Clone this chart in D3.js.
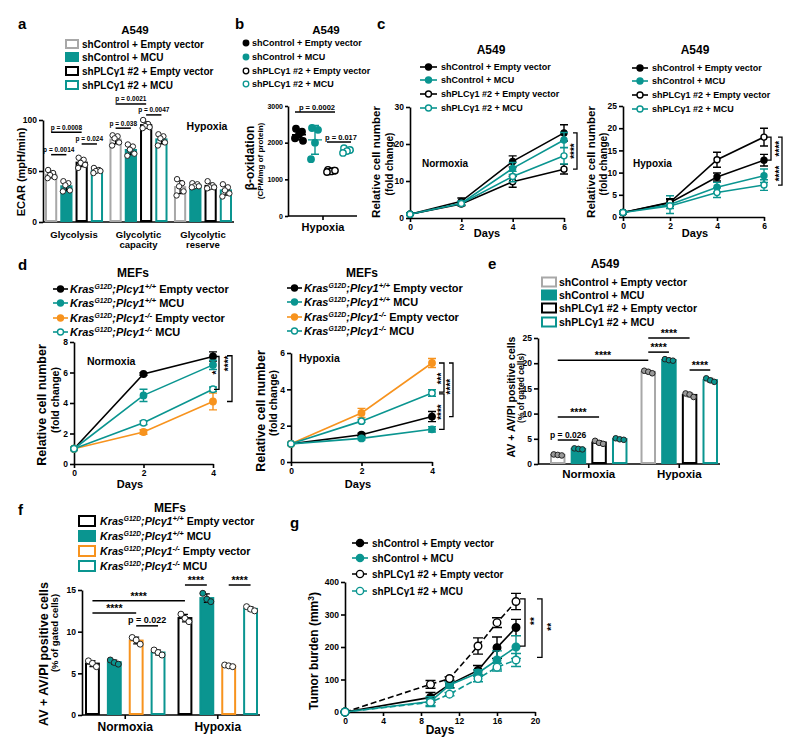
<!DOCTYPE html>
<html><head><meta charset="utf-8">
<script src="https://d3js.org/d3.v7.min.js"></script>
<style>
body{margin:0;background:#fff;}
svg text{font-family:"Liberation Sans",Arial,Helvetica,sans-serif;font-weight:bold;fill:#000;}
</style></head><body>
<script>
// ================= DATA =================
const a549Series = ["shControl + Empty vector","shControl + MCU","shPLCγ1 #2 + Empty vector","shPLCγ1 #2 + MCU"];
const a549SeriesE = ["shControl + Empty vector","shControl  + MCU","shPLCγ1 #2 + Empty vector","shPLCγ1 #2 + MCU"];
const mefGenotype = ["+/+","+/+","-/-","-/-"];
const mefVector = ["Empty vector","MCU","Empty vector","MCU"];

// panel a : ECAR (mpH/min), individual replicates per group / series
const aGroups = ["Glycolysis","Glycolytic\ncapacity","Glycolytic\nreserve"];
const aGlycolysis = [[51,48,46,44,43],[40,38,36,31,30],[63,61,58,56,53],[53,51,50,50,48]];
const aCapacity   = [[85,84,82,78,75],[76,74,71,67,65],[100,96,94,93,92],[86,84,82,78,75]];
const aReserve    = [[42,38,35,30,26],[38,37,35,35,34],[40,36,34,34,33],[37,34,31,28,25]];
const aYTicks = [0,50,100];
const aSig = [[0,0,0,1,66,"p = 0.0014"],[0,0,0,2,88,"p = 0.0008"],[0,2,0,3,76.5,"p = 0.024"],
              [1,0,1,1,92,"p = 0.038"],[1,0,1,2,115.7,"p = 0.0021"],[1,2,1,3,105,"p = 0.0047"]];

// panel b : beta-oxidation (CPM/mg of protein), hypoxia
const bValues = [[2380,2300,2220,2120,2050],[2400,2350,2000,1550],[1260,1235,1215,1200,1240],[1850,1800,1770,1720]];
const bYTicks = [0,1000,2000,3000];
const bSig = [[0,2,2836,"p = 0.0002"],[2,3,2018,"p = 0.017"]];

// panel c : relative cell number (fold change), A549
const cDays = [0,2,4,6];
const cNormMean = [[1,4.5,15.3,23],[1,4.0,13.4,21.1],[1,3.8,9.8,13.2],[1,3.9,11.2,16.8]];
const cNormErr  = [[0.2,0.9,1.5,2.2],[0.2,0.6,1.6,2.0],[0.2,0.5,1.5,1.3],[0.2,0.5,1.4,2.2]];
const cHypMean  = [[1,3.2,9.0,12.8],[1,2.8,6.7,9.3],[1,3.3,12.9,18.0],[1,2.5,5.5,7.2]];
const cHypErr   = [[0.2,0.7,0.9,1.3],[0.2,2.0,1.1,1.5],[0.2,0.8,1.7,2.0],[0.2,0.6,1.1,1.2]];
const cNormYTicks = [0,10,20,30];
const cHypYTicks = [0,5,10,15,20,25];

// panel d : relative cell number (fold change), MEFs
const dDays = [0,2,4];
const dNormMean = [[1,5.9,7.05],[1,4.5,6.5],[1,2.1,4.1],[1,2.7,4.9]];
const dNormErr  = [[0.05,0.08,0.3],[0.05,0.4,0.3],[0.05,0.15,0.55],[0.05,0.12,0.15]];
const dHypMean  = [[1,1.5,2.5],[1,1.3,1.8],[1,2.7,5.45],[1,2.25,3.8]];
const dHypErr   = [[0.05,0.08,0.28],[0.05,0.08,0.15],[0.05,0.25,0.25],[0.05,0.07,0.18]];
const dNormYTicks = [0,2,4,6,8];
const dHypYTicks = [0,2,4,6];

// panel e : AV + AV/PI positive cells (% of gated cells), A549
const eGroups = ["Normoxia","Hypoxia"];
const eNormoxia = [[1.9,1.8,1.7],[3.1,3.0,2.9],[4.6,4.2,4.0],[5.1,4.9,4.8]];
const eHypoxia  = [[18.5,18.3,18.0],[20.8,20.6,20.5],[14.0,13.8,13.3],[17.0,16.6,16.3]];
const eYTicks = [0,5,10,15,20,25];
const eSig = [[0,0,0,1,4.76,"p = 0.026"],[0,0,0,2,9.33,"****"],[0,0,1,0,20.6,"****"],
              [1,0,1,2,25,"****"],[1,0,1,1,22.2,"****"],[1,2,1,3,18.65,"****"]];

// panel f : AV + AV/PI positive cells (% of gated cells), MEFs
const fGroups = ["Normoxia","Hypoxia"];
const fNormoxia = [[6.5,6.2,5.8],[6.6,6.3,6.1],[9.3,9.0,8.5],[7.8,7.5,7.2]];
const fHypoxia  = [[12.1,11.6,11.2],[14.6,13.9,13.6],[6.0,5.9,5.8],[13.0,12.7,12.5]];
const fYTicks = [0,5,10,15];
const fSig = [[0,0,1,0,13.7,"****"],[0,0,0,2,12.25,"****"],[0,2,0,3,10.7,"p = 0.022"],
              [1,0,1,1,15.6,"****"],[1,2,1,3,15.6,"****"]];

// panel g : tumor burden (mm3)
const gDays = [0,9,11,14,16,18];
const gMean = [[0,45,85,128,198,260],[0,32,83,120,160,200],[0,85,103,203,275,340],[0,30,55,103,138,160]];
const gErr  = [[0,15,10,15,33,25],[0,15,10,10,28,35],[0,12,5,25,15,25],[0,10,5,10,12,20]];
const gYTicks = [0,100,200,300,400];
const gXTicks = [0,4,8,12,16,20];

// ================= DRAWING =================
const TEAL="#0a9590", ORANGE="#f7931e", LGRAY="#a8a8a8";
const svg=d3.select("body").append("svg").attr("width",800).attr("height",754);
const fmt=d3.format("d");

function text(x,y,s,size,anchor){return svg.append("text").attr("x",x).attr("y",y).attr("font-size",size).attr("text-anchor",anchor||"start").text(s);}
function vtext(x,y,s,size){return svg.append("text").attr("transform",`translate(${x},${y}) rotate(-90)`).attr("text-anchor","middle").attr("font-size",size).text(s);}
function stars(cx,cy,s,fs,vertical){
  if(vertical) return svg.append("text").attr("transform",`translate(${cx+fs*0.57},${cy}) rotate(-90)`).attr("text-anchor","middle").attr("font-size",fs).text(s);
  return text(cx,cy,s,fs,"middle");
}
function styleAxis(g,fs){g.attr("font-size",fs||8.5);g.selectAll(".domain,line").attr("stroke","#000").attr("stroke-width",1.6);}
function yAxis(y,x,ticks,fs,ts){const g=svg.append("g").attr("transform",`translate(${x},0)`).call(d3.axisLeft(y).tickValues(ticks).tickFormat(fmt).tickSize(ts||4).tickSizeOuter(0).tickPadding(2));styleAxis(g,fs);return g;}
function xAxis(x,y0,ticks){const g=svg.append("g").attr("transform",`translate(0,${y0})`).call(d3.axisBottom(x).tickValues(ticks).tickFormat(fmt).tickSize(4).tickSizeOuter(0).tickPadding(2));styleAxis(g);return g;}

function mefLabel(t,geno,vec){
  t.append("tspan").attr("font-style","italic").text("Kras");
  t.append("tspan").attr("font-style","italic").attr("font-size","0.62em").attr("dy",-4).text("G12D");
  t.append("tspan").attr("font-style","italic").attr("dy",4).text(";Plcγ1");
  t.append("tspan").attr("font-style","italic").attr("font-size","0.72em").attr("dy",-4).text(geno);
  t.append("tspan").attr("dy",4).text(" "+vec);
}
function writeLabel(t,lab){ if(typeof lab==="string") t.text(lab); else mefLabel(t,lab.geno,lab.vec); }

function lineLegend(x1,x2,tx,ys,labels,styles,fs){
  labels.forEach((lab,i)=>{const st=styles[i],yy=ys[i];
    svg.append("line").attr("x1",x1).attr("x2",x2).attr("y1",yy).attr("y2",yy).attr("stroke",st.color).attr("stroke-width",1.6).attr("stroke-dasharray",st.dash||null);
    svg.append("circle").attr("cx",(x1+x2)/2).attr("cy",yy).attr("r",st.r||3).attr("fill",st.open?"#fff":st.color).attr("stroke",st.color).attr("stroke-width",1.4);
    writeLabel(text(tx,yy+fs*0.36,"",fs),lab);
  });
}
function boxLegend(bx,bw,bh,tx,ys,labels,styles,fs){
  labels.forEach((lab,i)=>{const st=styles[i],yy=ys[i];
    svg.append("rect").attr("x",bx).attr("y",yy-bh/2).attr("width",bw).attr("height",bh).attr("fill",st.fill).attr("stroke",st.stroke).attr("stroke-width",2);
    writeLabel(text(tx,yy+fs*0.36,"",fs),lab);
  });
}
function bracket(x,y1,y2,tick){svg.append("path").attr("d",`M${x-tick},${y1}H${x}V${y2}H${x-tick}`).attr("fill","none").attr("stroke","#000").attr("stroke-width",1.3);}

function linePanel(o){
  const x=d3.scaleLinear().domain(o.xd).range(o.xr), y=d3.scaleLinear().domain(o.yd).range(o.yr);
  yAxis(y,o.xr[0],o.yticks); xAxis(x,o.yr[0],o.xticks);
  o.means.forEach((vals,i)=>{const st=o.styles[i], errs=o.errs[i], g=svg.append("g");
    g.append("path").datum(vals).attr("fill","none").attr("stroke",st.color).attr("stroke-width",1.6).attr("stroke-dasharray",st.dash||null)
      .attr("d",d3.line().x((d,j)=>x(o.days[j])).y(d=>y(d)));
    vals.forEach((v,j)=>{const e=errs[j]; if(e>0){const cx=x(o.days[j]),cw=o.cap||4;
      g.append("path").attr("d",`M${cx},${y(v-e)}V${y(v+e)}M${cx-cw},${y(v+e)}H${cx+cw}M${cx-cw},${y(v-e)}H${cx+cw}`).attr("stroke",st.color).attr("stroke-width",1.4).attr("fill","none");}});
    g.selectAll("circle").data(vals).join("circle").attr("cx",(d,j)=>x(o.days[j])).attr("cy",d=>y(d)).attr("r",o.r||3)
      .attr("fill",st.open?"#fff":st.color).attr("stroke",st.color).attr("stroke-width",1.4);
  });
  return {x,y};
}

function barPanel(o){
  const x0=d3.scaleBand().domain(d3.range(o.groups.length)).range(o.xr).paddingInner(o.pG);
  const x1=d3.scaleBand().domain(d3.range(4)).range([0,x0.bandwidth()]).paddingInner(o.pS);
  const y=d3.scaleLinear().domain(o.yd).range(o.yr);
  const cx=(g,s)=>x0(g)+x1(s)+x1.bandwidth()/2;
  yAxis(y,o.axisX,o.yticks);
  svg.append("line").attr("x1",o.axisX).attr("x2",o.xr[1]+2).attr("y1",y(0)).attr("y2",y(0)).attr("stroke","#000").attr("stroke-width",1.6);
  o.points.forEach((grp,gi)=>grp.forEach((pts,si)=>{
    const st=o.styles[si], m=d3.mean(pts), sd=d3.deviation(pts), bw=x1.bandwidth(), bx=x0(gi)+x1(si), c=cx(gi,si);
    svg.append("rect").attr("x",bx+1).attr("y",y(m)).attr("width",bw-2).attr("height",y(0)-y(m)-1).attr("fill",st.fill).attr("stroke",st.stroke).attr("stroke-width",2);
    svg.append("path").attr("d",`M${c},${y(m-sd)}V${y(m+sd)}M${c-3},${y(m+sd)}H${c+3}M${c-3},${y(m-sd)}H${c+3}`).attr("stroke","#000").attr("stroke-width",1.2).attr("fill","none");
    pts.forEach((v,k)=>svg.append("circle").attr("cx",c+o.jit[k%o.jit.length]).attr("cy",y(v)).attr("r",o.r).attr("fill",st.dot).attr("stroke","#222").attr("stroke-width",1));
  }));
  o.groups.forEach((gname,gi)=>{const gc=x0(gi)+x0.bandwidth()/2;
    if(o.groupTicks) svg.append("line").attr("x1",gc).attr("x2",gc).attr("y1",y(0)).attr("y2",y(0)+4).attr("stroke","#000").attr("stroke-width",1.6);
    gname.split("\n").forEach((ln,li)=>text(gc,o.labelY+li*o.labelLH,ln,o.labelFs,"middle"));});
  o.sig.forEach(s=>{const xa=cx(s[0],s[1]),xb=cx(s[2],s[3]),yy=y(s[4]);
    svg.append("line").attr("x1",xa).attr("x2",xb).attr("y1",yy).attr("y2",yy).attr("stroke","#000").attr("stroke-width",1.5);
    if(s[5].startsWith("*")) text((xa+xb)/2,yy-1,s[5],o.starFs,"middle"); else text((xa+xb)/2,yy-2.5,s[5],o.sigFs,"middle");});
  return {x0,x1,y,cx};
}

const a549Bar=[{fill:"#fff",stroke:LGRAY},{fill:TEAL,stroke:TEAL},{fill:"#fff",stroke:"#000"},{fill:"#fff",stroke:TEAL}];
const a549Line=[{color:"#000"},{color:TEAL},{color:"#000",open:true},{color:TEAL,open:true}];
const mefLine=[{color:"#000"},{color:TEAL},{color:ORANGE},{color:TEAL,open:true}];
const mefBar=[{fill:"#fff",stroke:"#000",dot:"#fff"},{fill:TEAL,stroke:TEAL,dot:TEAL},{fill:"#fff",stroke:ORANGE,dot:"#fff"},{fill:"#fff",stroke:TEAL,dot:"#fff"}];
const mefLabels=mefGenotype.map((g,i)=>({geno:g,vec:mefVector[i]}));

// ---------- panel a ----------
text(18,29,"a",15);
text(135,34,"A549",11.5,"middle");
boxLegend(66,12,8,82,[44,57,71,85],a549Series,a549Bar,10);
barPanel({groups:aGroups,points:[aGlycolysis,aCapacity,aReserve],styles:a549Bar.map(s=>({...s,dot:"#fff"})),
  xr:[45,232],pG:0.1,pS:0.2,yd:[0,100],yr:[222,120],yticks:aYTicks,axisX:43,jit:[-3,2,-1,3.5,-3.5],r:2.7,
  labelY:238,labelLH:9.5,labelFs:9.5,sig:aSig,sigFs:6.5,starFs:10});
vtext(25,172,"ECAR (mpH/min)",11);
text(207,130,"Hypoxia",10.5,"middle");

// ---------- panel b ----------
text(235,29,"b",15);
text(326,34,"A549",11.5,"middle");
{
  const bStyles=[{color:"#000"},{color:TEAL},{color:"#000",open:true},{color:TEAL,open:true}];
  a549Series.forEach((lab,i)=>{const yy=[43,57,71,84][i],st=bStyles[i];
    svg.append("circle").attr("cx",246).attr("cy",yy).attr("r",2.8).attr("fill",st.open?"#fff":st.color).attr("stroke",st.color).attr("stroke-width",1.3);
    text(252,yy+3.3,lab,9);});
  const bx=d3.scalePoint().domain(d3.range(4)).range([299,347]);
  const by=d3.scaleLinear().domain([0,3000]).range([216,106]);
  yAxis(by,288,bYTicks,7,3);
  svg.append("line").attr("x1",288).attr("x2",357).attr("y1",216).attr("y2",216).attr("stroke","#000").attr("stroke-width",1.6);
  svg.append("line").attr("x1",323).attr("x2",323).attr("y1",216).attr("y2",220).attr("stroke","#000").attr("stroke-width",1.6);
  text(323,231,"Hypoxia",11,"middle");
  const jit=[-3,3,0,-4,4];
  bValues.forEach((vals,i)=>{const st=bStyles[i],c=bx(i),m=d3.mean(vals),sd=d3.deviation(vals);
    svg.append("path").attr("d",`M${c-7},${by(m)}H${c+7}M${c},${by(m-sd)}V${by(m+sd)}M${c-4},${by(m+sd)}H${c+4}M${c-4},${by(m-sd)}H${c+4}`).attr("stroke",st.color).attr("stroke-width",1.4).attr("fill","none");
    vals.forEach((v,k)=>svg.append("circle").attr("cx",c+jit[k%jit.length]).attr("cy",by(v)).attr("r",3.2).attr("fill",st.open?"#fff":st.color).attr("stroke",st.color).attr("stroke-width",1.4));
  });
  bSig.forEach(s=>{const xa=bx(s[0])-4,xb=bx(s[1])+4,yy=by(s[2]);
    svg.append("line").attr("x1",xa).attr("x2",xb).attr("y1",yy).attr("y2",yy).attr("stroke","#000").attr("stroke-width",1.5);
    text((xa+xb)/2+2,yy-2.5,s[3],7.5,"middle");});
  vtext(254,158,"β-oxidation",12);
  vtext(263,161,"(CPM/mg of protein)",8);
}

// ---------- panel c ----------
text(377,29,"c",15);
text(491,54,"A549",12,"middle");
lineLegend(420,437,441,[67,80,94,108],a549Series,a549Line,9);
{
  const p=linePanel({xd:[0,6],xr:[410,564],yd:[0,30],yr:[218,107],xticks:cDays,yticks:cNormYTicks,days:cDays,means:cNormMean,errs:cNormErr,styles:a549Line,r:3});
  text(422,167,"Normoxia",10,"start");
  text(487,237,"Days",11,"middle");
  vtext(380,162,"Relative cell number",11.5);
  vtext(393,164,"(fold change)",10);
  bracket(577,p.y(23),p.y(13.2),4); stars(572,p.y(18.1),"****",10,true);
}
text(695,54,"A549",12,"middle");
lineLegend(632,648,652,[68,81,95,109],a549Series,a549Line,9);
{
  const p=linePanel({xd:[0,6],xr:[623,764],yd:[0,25],yr:[217,106],xticks:cDays,yticks:cHypYTicks,days:cDays,means:cHypMean,errs:cHypErr,styles:a549Line,r:3});
  text(633,167,"Hypoxia",10,"start");
  text(695,237,"Days",11,"middle");
  vtext(595,162,"Relative cell number",11.5);
  vtext(607,164,"(fold change)",10);
  bracket(771,p.y(18),p.y(12.8),5); stars(777,p.y(15.4),"****",10,true);
  bracket(782,p.y(18),p.y(7.2),4); stars(777,p.y(9.8),"****",10,true);
}

// ---------- panel d ----------
text(18,270,"d",15);
text(133,277,"MEFs",12,"middle");
lineLegend(53,68,70,[289,303,318,332],mefLabels,mefLine,11);
{
  const p=linePanel({xd:[0,4],xr:[74,213],yd:[0,8],yr:[464,342],xticks:dDays,yticks:dNormYTicks,days:dDays,means:dNormMean,errs:dNormErr,styles:mefLine,r:3.2});
  text(87,365,"Normoxia",10.5,"start");
  text(130,488,"Days",11,"middle");
  vtext(46,405,"Relative cell number",12.5);
  vtext(59,400,"(fold change)",10.5);
  bracket(219,p.y(7.05),p.y(4.9),5); stars(214,p.y(6.0),"*",10,true);
  bracket(232,p.y(7.1),p.y(4.1),5); stars(226,p.y(6.6),"****",10,true);
}
text(362,277,"MEFs",12,"middle");
lineLegend(287,302,304,[288,302,317,331],mefLabels,mefLine,11);
{
  const p=linePanel({xd:[0,4],xr:[291,432],yd:[0,6],yr:[462,353],xticks:dDays,yticks:dHypYTicks,days:dDays,means:dHypMean,errs:dHypErr,styles:mefLine,r:3.2});
  text(299,362,"Hypoxia",10.5,"start");
  text(358,488,"Days",11,"middle");
  vtext(265,411,"Relative cell number",12.5);
  vtext(277,403,"(fold change)",10.5);
  bracket(444,p.y(5.45),p.y(3.85),5); stars(439,p.y(4.6),"***",10,true);
  bracket(444,p.y(3.75),p.y(1.8),5); stars(439,p.y(2.75),"****",10,true);
  bracket(453,p.y(5.45),p.y(2.5),4); stars(448,p.y(4.15),"****",10,true);
}

// ---------- panel e ----------
text(488,269,"e",15);
text(605,268,"A549",12,"middle");
boxLegend(542,14,9,559,[282,295,308,322],a549SeriesE,a549Bar,10.5);
barPanel({groups:eGroups,points:[eNormoxia,eHypoxia],styles:[{...a549Bar[0],dot:"#999"},{...a549Bar[1],dot:TEAL},{...a549Bar[2],dot:"#999"},{...a549Bar[3],dot:TEAL}],
  xr:[550,718],pG:0.144,pS:0.25,yd:[0,25],yr:[464,338],yticks:eYTicks,axisX:538,jit:[-4,0,4],r:2.8,groupTicks:true,
  labelY:478,labelLH:10,labelFs:11.5,sig:eSig,sigFs:8.5,starFs:10.5});
vtext(515,397,"AV + AV/PI positive cells",10.5);
vtext(524,388,"(% of gated cells)",8.5);

// ---------- panel f ----------
text(18,515,"f",15);
text(170,512,"MEFs",12,"middle");
boxLegend(79,16,10,100,[521,536,551,566],mefLabels,[mefBar[0],mefBar[1],mefBar[2],mefBar[3]],10.7);
barPanel({groups:fGroups,points:[fNormoxia,fHypoxia],styles:mefBar,
  xr:[85,258],pG:0.13,pS:0.32,yd:[0,15],yr:[715,590],yticks:fYTicks,axisX:82,jit:[-4,0,4],r:3,groupTicks:true,
  labelY:731,labelLH:10,labelFs:12,sig:fSig,sigFs:9,starFs:10.5});
vtext(48,654,"AV + AV/PI positive cells",12.5);
vtext(58,633,"(% of gated cells)",9.5);

// ---------- panel g ----------
text(290,528,"g",15);
{
  const gStyles=[{color:"#000"},{color:TEAL},{color:"#000",open:true,dash:"6,3"},{color:TEAL,open:true,dash:"6,3"}];
  lineLegend(352,368,372,[543,558,574,591],a549Series,gStyles.map(s=>({...s,r:3.6})),10);
  const p=linePanel({xd:[0,20],xr:[345,535],yd:[0,400],yr:[712,582],xticks:gXTicks,yticks:gYTicks,days:gDays,means:gMean,errs:gErr,styles:gStyles,r:3.8,cap:5});
  text(440,734,"Days",12,"middle");
  const t=svg.append("text").attr("transform","translate(318,651) rotate(-90)").attr("text-anchor","middle").attr("font-size",12);
  t.append("tspan").text("Tumor burden (mm"); t.append("tspan").attr("font-size","0.7em").attr("dy",-4).text("3"); t.append("tspan").attr("dy",4).text(")");
  bracket(525,p.y(348),p.y(203),5); stars(532,p.y(280),"**",10,true);
  bracket(542,p.y(348),p.y(168),5); stars(549,p.y(262),"**",10,true);
}
</script></body></html>
